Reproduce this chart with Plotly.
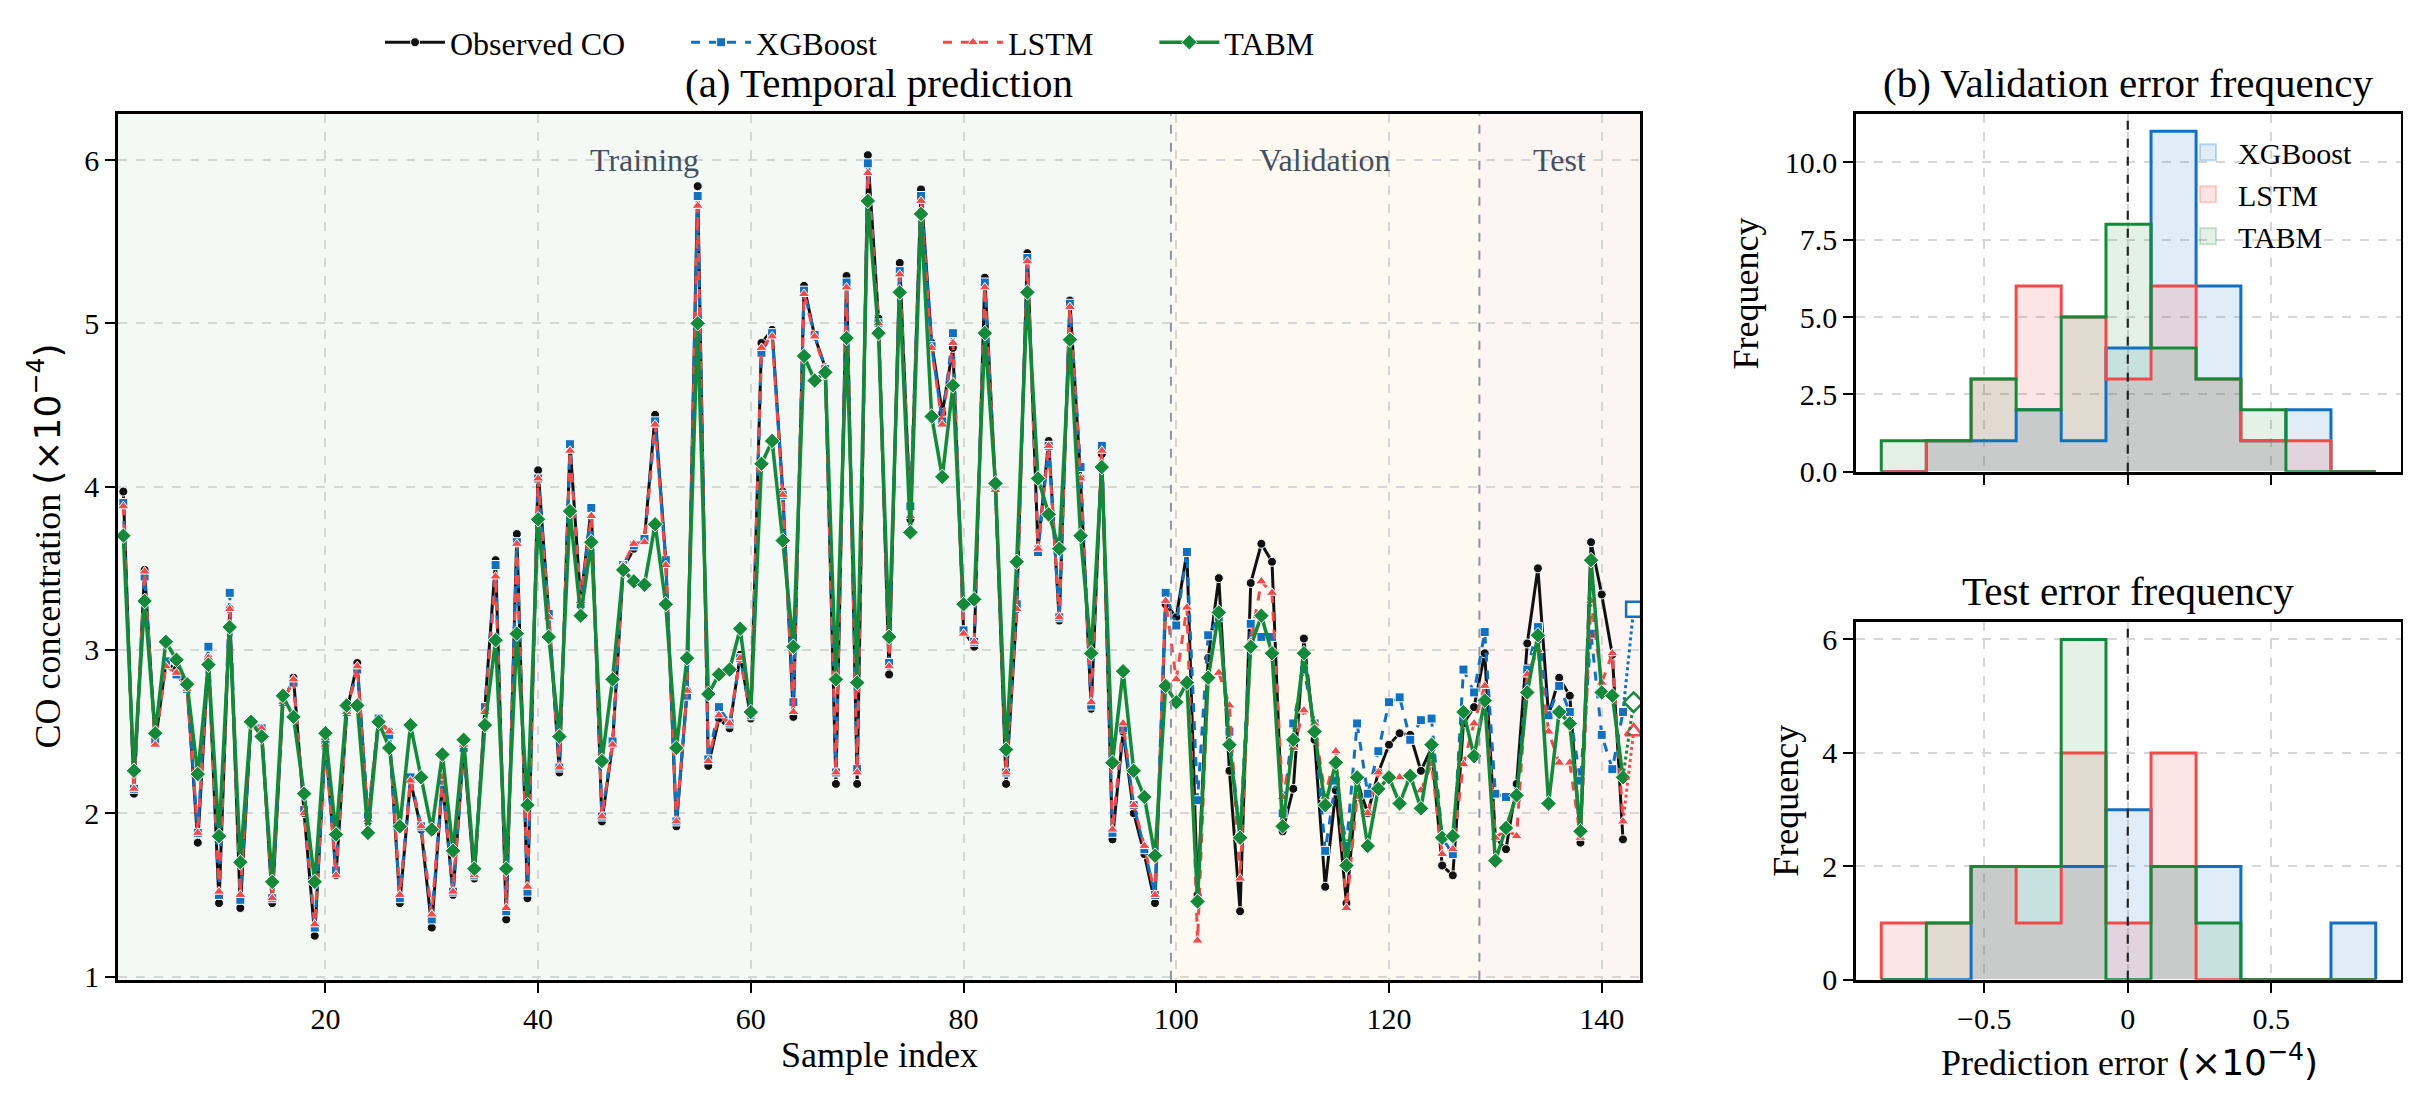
import plotly.graph_objects as go

# ---------------- data ----------------
sample_index = list(range(1, 144))

observed = [
    3.97, 2.12, 3.49, 2.43, 2.92, 2.88, 2.78, 1.82, 2.95, 1.45,
    3.25, 1.42, 2.55, 2.52, 1.45, 2.67, 2.83, 2.00, 1.25, 2.45,
    1.62, 2.62, 2.92, 1.95, 2.57, 2.50, 1.45, 2.20, 1.90, 1.30,
    2.20, 1.50, 2.40, 1.60, 2.65, 3.55, 1.35, 3.71, 1.48, 4.10,
    3.22, 2.25, 4.26, 3.30, 3.87, 1.95, 2.42, 3.50, 3.62, 3.68,
    4.44, 3.55, 1.92, 2.75, 5.84, 2.29, 2.58, 2.52, 2.97, 2.58,
    4.88, 4.96, 3.97, 2.59, 5.23, 4.92, 4.73, 2.18, 5.29, 2.18,
    6.03, 5.03, 2.85, 5.37, 3.80, 5.82, 4.88, 4.45, 4.85, 3.12,
    3.02, 5.28, 4.00, 2.18, 3.25, 5.43, 3.62, 4.28, 3.18, 5.14,
    4.05, 2.64, 4.20, 1.84, 2.50, 2.00, 1.75, 1.45, 3.28, 3.20,
    3.60, 1.50, 2.95, 3.44, 2.26, 1.40, 3.41, 3.65, 3.54, 1.89,
    2.15, 3.07, 2.45, 1.55, 2.14, 1.45, 2.20, 2.00, 2.25, 2.42,
    2.49, 2.48, 2.26, 2.40, 1.68, 1.62, 2.55, 2.65, 2.98, 1.85,
    1.78, 2.18, 3.04, 3.50, 2.60, 2.83, 2.72, 1.82, 3.66, 3.34,
    2.97, 1.84, None,
]

xgboost = [
    3.90, 2.15, 3.45, 2.45, 2.93, 2.85, 2.76, 1.88, 3.02, 1.50,
    3.35, 1.47, 2.55, 2.52, 1.48, 2.68, 2.80, 2.02, 1.30, 2.42,
    1.65, 2.62, 2.88, 1.98, 2.58, 2.48, 1.48, 2.22, 1.92, 1.35,
    2.20, 1.52, 2.40, 1.62, 2.65, 3.52, 1.40, 3.66, 1.52, 4.05,
    3.22, 2.28, 4.26, 3.28, 3.87, 1.98, 2.44, 3.52, 3.64, 3.68,
    4.40, 3.55, 1.95, 2.72, 5.78, 2.33, 2.65, 2.55, 2.95, 2.60,
    4.82, 4.94, 3.95, 2.68, 5.20, 4.93, 4.72, 2.25, 5.25, 2.27,
    5.98, 5.00, 2.92, 5.32, 3.88, 5.78, 4.86, 4.40, 4.94, 3.12,
    3.05, 5.25, 4.00, 2.25, 3.28, 5.40, 3.60, 4.25, 3.20, 5.12,
    4.12, 2.66, 4.25, 1.88, 2.52, 2.05, 1.78, 1.50, 3.35, 3.15,
    3.60, 2.08, 3.09, 3.20, 2.50, 1.85, 3.16, 3.08, 3.08, 2.00,
    2.55, 2.88, 2.55, 1.77, 2.20, 1.80, 2.55, 2.12, 2.38, 2.68,
    2.71, 2.45, 2.57, 2.58, 1.85, 1.75, 2.88, 2.74, 3.11, 2.12,
    2.10, 2.10, 2.88, 3.14, 2.60, 2.78, 2.62, 2.20, 3.10, 2.48,
    2.27, 2.62, 3.25,
]

lstm = [
    3.88, 2.15, 3.48, 2.42, 2.90, 2.86, 2.76, 1.88, 2.95, 1.52,
    3.25, 1.50, 2.56, 2.52, 1.48, 2.68, 2.82, 2.00, 1.32, 2.42,
    1.62, 2.62, 2.90, 1.96, 2.56, 2.50, 1.50, 2.20, 1.92, 1.38,
    2.22, 1.52, 2.42, 1.62, 2.62, 3.45, 1.42, 3.65, 1.55, 4.05,
    3.20, 2.28, 4.22, 3.30, 3.82, 1.98, 2.42, 3.52, 3.65, 3.66,
    4.38, 3.52, 1.95, 2.75, 5.72, 2.32, 2.60, 2.55, 2.95, 2.60,
    4.85, 4.92, 3.95, 2.62, 5.18, 4.92, 4.70, 2.25, 5.22, 2.25,
    5.92, 5.00, 2.90, 5.30, 3.82, 5.75, 4.85, 4.38, 4.88, 3.10,
    3.05, 5.22, 3.98, 2.25, 3.25, 5.38, 3.62, 4.25, 3.20, 5.10,
    4.05, 2.68, 4.22, 1.90, 2.55, 2.05, 1.80, 1.50, 3.30, 2.82,
    3.26, 1.22, 2.85, 2.86, 2.66, 1.60, 3.05, 3.42, 3.35, 2.10,
    2.40, 2.63, 2.55, 2.10, 2.38, 1.42, 2.10, 2.00, 2.25, 2.20,
    2.22, 2.20, 2.14, 2.30, 1.75, 1.78, 2.30, 2.55, 2.78, 1.85,
    1.90, 1.86, 2.85, 3.00, 2.50, 2.31, 2.31, 1.85, 3.30, 2.80,
    2.98, 1.95, 2.50,
]

tabm = [
    3.70, 2.26, 3.30, 2.49, 3.05, 2.94, 2.79, 2.24, 2.91, 1.86,
    3.14, 1.70, 2.56, 2.47, 1.58, 2.72, 2.59, 2.12, 1.58, 2.49,
    1.87, 2.66, 2.66, 1.88, 2.56, 2.40, 1.92, 2.54, 2.22, 1.90,
    2.36, 1.77, 2.45, 1.66, 2.54, 3.06, 1.66, 3.10, 2.05, 3.80,
    3.08, 2.47, 3.85, 3.21, 3.66, 2.32, 2.82, 3.49, 3.42, 3.40,
    3.77, 3.28, 2.40, 2.95, 5.00, 2.73, 2.85, 2.88, 3.13, 2.62,
    4.14, 4.28, 3.67, 3.02, 4.80, 4.65, 4.70, 2.82, 4.91, 2.80,
    5.75, 4.94, 3.08, 5.19, 3.72, 5.67, 4.43, 4.06, 4.62, 3.28,
    3.31, 4.94, 4.02, 2.39, 3.54, 5.19, 4.05, 3.83, 3.62, 4.90,
    3.70, 2.98, 4.12, 2.31, 2.87, 2.26, 2.10, 1.74, 2.78, 2.68,
    2.80, 1.46, 2.83, 3.23, 2.42, 1.85, 3.02, 3.21, 2.98, 1.92,
    2.45, 2.98, 2.50, 2.05, 2.31, 1.68, 2.22, 1.80, 2.15, 2.22,
    2.06, 2.23, 2.03, 2.42, 1.85, 1.86, 2.62, 2.35, 2.69, 1.71,
    1.91, 2.11, 2.74, 3.09, 2.06, 2.62, 2.55, 1.89, 3.55, 2.74,
    2.72, 2.22, 2.68,
]

# histogram bins (prediction error, x1e-4) and counts
hist_edges = [-0.859, -0.702, -0.546, -0.389, -0.232, -0.076,
              0.081, 0.238, 0.394, 0.551, 0.708, 0.864]
val_xgb = [0, 1, 1, 2, 1, 4, 11, 6, 1, 2, 0]
val_lstm = [0, 1, 3, 6, 5, 3, 6, 3, 1, 1, 0]
val_tabm = [1, 1, 3, 2, 5, 8, 4, 3, 2, 0, 0]
test_xgb = [0, 0, 2, 2, 2, 3, 2, 2, 0, 0, 1]
test_lstm = [1, 1, 2, 1, 4, 1, 4, 0, 0, 0, 0]
test_tabm = [0, 1, 2, 2, 6, 0, 2, 1, 0, 0, 0]

main_x_ticks = [20, 40, 60, 80, 100, 120, 140]
main_y_ticks = [1, 2, 3, 4, 5, 6]
val_y_ticks = [0, 2.5, 5, 7.5, 10]
test_y_ticks = [0, 2, 4, 6]
err_x_ticks = [-0.5, 0, 0.5]

# ---------------- styling ----------------
W, H = 2411, 1107
FONT = "Liberation Serif"
C_OBS = "#111111"
C_XGB = "#1170c1"
C_LSTM = "#f04a4a"
C_TABM = "#15893a"
F_XGB = "rgba(17,112,193,0.13)"
F_LSTM = "rgba(240,74,74,0.14)"
F_TABM = "rgba(21,137,58,0.12)"
L_XGB = "rgba(17,112,193,0.25)"
L_LSTM = "rgba(240,74,74,0.25)"
L_TABM = "rgba(21,137,58,0.22)"
GRID = "#d6d6d6"
PAD = "\u00a0" * 7  # spacing between legend entries

def px_x(p):
    return p / W

def px_y(p):
    return 1 - p / H

fig = go.Figure()

n_main = 142  # last sample drawn with dotted connector / hollow marker

fig.add_trace(go.Scatter(
    x=sample_index[:n_main], y=observed[:n_main], mode="lines+markers",
    name="Observed CO" + PAD, line=dict(color=C_OBS, width=3),
    marker=dict(symbol="circle", size=9, color=C_OBS, line=dict(color="white", width=1)),
    xaxis="x", yaxis="y", legend="legend"))
fig.add_trace(go.Scatter(
    x=sample_index[:n_main], y=xgboost[:n_main], mode="lines+markers",
    name="XGBoost" + PAD, line=dict(color=C_XGB, width=3, dash="dash"),
    marker=dict(symbol="square", size=9, color=C_XGB, line=dict(color="white", width=1)),
    xaxis="x", yaxis="y", legend="legend"))
fig.add_trace(go.Scatter(
    x=sample_index[:n_main], y=lstm[:n_main], mode="lines+markers",
    name="LSTM" + PAD, line=dict(color=C_LSTM, width=3, dash="dash"),
    marker=dict(symbol="triangle-up", size=10, color=C_LSTM, line=dict(color="white", width=1)),
    xaxis="x", yaxis="y", legend="legend"))
fig.add_trace(go.Scatter(
    x=sample_index[:n_main], y=tabm[:n_main], mode="lines+markers",
    name="TABM", line=dict(color=C_TABM, width=3.5),
    marker=dict(symbol="diamond", size=12, color=C_TABM, line=dict(color="white", width=1)),
    xaxis="x", yaxis="y", legend="legend"))

# dotted connector to final (forecast) point with hollow markers
for series, col, sym in [(xgboost, C_XGB, "square"), (lstm, C_LSTM, "triangle-up"), (tabm, C_TABM, "diamond")]:
    fig.add_trace(go.Scatter(
        x=sample_index[n_main - 1:], y=series[n_main - 1:], mode="lines",
        line=dict(color=col, width=3, dash="dot"), showlegend=False,
        xaxis="x", yaxis="y", hoverinfo="skip"))
    fig.add_trace(go.Scatter(
        x=sample_index[n_main:], y=series[n_main:], mode="markers",
        marker=dict(symbol=sym, size=15, color="white", line=dict(color=col, width=2.5)),
        showlegend=False, xaxis="x", yaxis="y"))

# histograms
centers = [(hist_edges[i] + hist_edges[i + 1]) / 2 for i in range(len(hist_edges) - 1)]
bw = hist_edges[1] - hist_edges[0]

def step_xy(counts):
    xs = [hist_edges[0]] + hist_edges[:-1] + [hist_edges[-1]]
    ys = [0] + list(counts) + [0]
    return xs, ys

for (counts, col, fill, name, xa, ya) in [
    (val_xgb, C_XGB, F_XGB, "XGBoost", "x2", "y2"),
    (val_lstm, C_LSTM, F_LSTM, "LSTM", "x2", "y2"),
    (val_tabm, C_TABM, F_TABM, "TABM", "x2", "y2"),
    (test_xgb, C_XGB, F_XGB, "XGBoost", "x3", "y3"),
    (test_lstm, C_LSTM, F_LSTM, "LSTM", "x3", "y3"),
    (test_tabm, C_TABM, F_TABM, "TABM", "x3", "y3"),
]:
    fig.add_trace(go.Bar(
        x=centers, y=counts, width=bw, name=name,
        marker=dict(color=fill, line=dict(width=0)),
        showlegend=False, xaxis=xa, yaxis=ya))
    sx, sy = step_xy(counts)
    fig.add_trace(go.Scatter(
        x=sx, y=sy, mode="lines", line=dict(color=col, width=3, shape="hv"),
        showlegend=False, xaxis=xa, yaxis=ya, hoverinfo="skip"))

# legend-only patches for the histogram legend
for name, fill, edge in [("XGBoost", F_XGB, L_XGB), ("LSTM", F_LSTM, L_LSTM), ("TABM", F_TABM, L_TABM)]:
    fig.add_trace(go.Scatter(
        x=[None], y=[None], mode="markers", name=name,
        marker=dict(symbol="square", size=30, color=fill, line=dict(color=edge, width=2)),
        legend="legend2", xaxis="x2", yaxis="y2"))

# ---------------- layout ----------------
axis_common = dict(
    showline=True, mirror=True, linecolor="black", linewidth=2.5,
    ticks="outside", ticklen=10, tickwidth=2, tickcolor="black",
    showgrid=True, gridcolor=GRID, griddash="dash", gridwidth=1.5,
    zeroline=False, tickfont=dict(family=FONT, size=30, color="black"),
)

main_dom_x = [px_x(110), px_x(1632)]
main_dom_y = [px_y(987), px_y(108)]
hist_dom_x = [px_x(1848), px_x(2393)]
top_dom_y = [px_y(471), px_y(108)]
bot_dom_y = [px_y(987), px_y(624)]

fig.update_layout(
    width=W, height=H,
    margin=dict(l=0, r=0, t=0, b=0),
    paper_bgcolor="white", plot_bgcolor="white",
    barmode="overlay", bargap=0,
    font=dict(family=FONT, color="black"),
    xaxis=dict(axis_common, domain=main_dom_x, range=[0.5, 143.6],
               tickvals=main_x_ticks, anchor="y"),
    yaxis=dict(axis_common, domain=main_dom_y, range=[0.98, 6.28],
               tickvals=main_y_ticks, anchor="x"),
    xaxis2=dict(axis_common, domain=hist_dom_x, range=[-0.947, 0.952],
                tickvals=err_x_ticks, showticklabels=False, anchor="y2"),
    yaxis2=dict(axis_common, domain=top_dom_y, range=[0, 11.55],
                tickvals=val_y_ticks, tickformat=".1f", anchor="x2"),
    xaxis3=dict(axis_common, domain=hist_dom_x, range=[-0.947, 0.952],
                tickvals=err_x_ticks, ticktext=["\u22120.5", "0", "0.5"], anchor="y3"),
    yaxis3=dict(axis_common, domain=bot_dom_y, range=[0, 6.3],
                tickvals=test_y_ticks, anchor="x3"),
    legend=dict(orientation="h", x=px_x(372), xanchor="left", y=px_y(35), yanchor="middle",
                font=dict(family=FONT, size=32, color="black"), bgcolor="rgba(0,0,0,0)",
                itemwidth=60, traceorder="normal"),
    legend2=dict(orientation="v", x=px_x(2170), xanchor="left", y=px_y(120), yanchor="top",
                 font=dict(family=FONT, size=30, color="black"), bgcolor="rgba(0,0,0,0)",
                 itemwidth=50, tracegroupgap=4),
    showlegend=True,
)

shapes = []
# region shading
for x0, x1, col in [(0.5, 99.5, "rgba(225,240,230,0.38)"),
                    (99.5, 128.5, "rgba(252,244,222,0.42)"),
                    (128.5, 143.6, "rgba(250,228,224,0.38)")]:
    shapes.append(dict(type="rect", xref="x", yref="y domain", x0=x0, x1=x1, y0=0, y1=1,
                       fillcolor=col, line=dict(width=0), layer="below"))
for xb in [99.5, 128.5]:
    shapes.append(dict(type="line", xref="x", yref="y domain", x0=xb, x1=xb, y0=0, y1=1,
                       line=dict(color="#8b95a7", width=2, dash="dash"), layer="above"))
for ya in ["y2 domain", "y3 domain"]:
    xr = "x2" if ya.startswith("y2") else "x3"
    shapes.append(dict(type="line", xref=xr, yref=ya, x0=0, x1=0, y0=0, y1=1,
                       line=dict(color="#222222", width=2.2, dash="dash"), layer="above"))
fig.update_layout(shapes=shapes)

math = "<span style='font-family:DejaVu Sans'>(×10<sup>−4</sup>)</span>"
ann = []
ann.append(dict(text="(a) Temporal prediction", x=px_x(871), y=px_y(76), xref="paper", yref="paper",
                showarrow=False, font=dict(family=FONT, size=41, color="black"), xanchor="center", yanchor="middle"))
ann.append(dict(text="(b) Validation error frequency", x=px_x(2120), y=px_y(76), xref="paper", yref="paper",
                showarrow=False, font=dict(family=FONT, size=41, color="black"), xanchor="center", yanchor="middle"))
ann.append(dict(text="Test error frequency", x=px_x(2120), y=px_y(592), xref="paper", yref="paper",
                showarrow=False, font=dict(family=FONT, size=41, color="black"), xanchor="center", yanchor="middle"))
ann.append(dict(text="Sample index", x=px_x(871), y=px_y(1063), xref="paper", yref="paper",
                showarrow=False, font=dict(family=FONT, size=36, color="black"), xanchor="center", yanchor="middle"))
ann.append(dict(text="CO concentration " + math, x=px_x(36), y=px_y(547), xref="paper", yref="paper",
                showarrow=False, textangle=-90, font=dict(family=FONT, size=36, color="black"),
                xanchor="center", yanchor="middle"))
ann.append(dict(text="Frequency", x=px_x(1738), y=px_y(290), xref="paper", yref="paper",
                showarrow=False, textangle=-90, font=dict(family=FONT, size=36, color="black"),
                xanchor="center", yanchor="middle"))
ann.append(dict(text="Frequency", x=px_x(1778), y=px_y(805), xref="paper", yref="paper",
                showarrow=False, textangle=-90, font=dict(family=FONT, size=36, color="black"),
                xanchor="center", yanchor="middle"))
ann.append(dict(text="Prediction error " + math, x=px_x(2121), y=px_y(1068), xref="paper", yref="paper",
                showarrow=False, font=dict(family=FONT, size=36, color="black"), xanchor="center", yanchor="middle"))
for label, xc in [("Training", 50), ("Validation", 114), ("Test", 136)]:
    ann.append(dict(text=label, x=xc, y=6.0, xref="x", yref="y", showarrow=False,
                    font=dict(family=FONT, size=32, color="#44505f"), xanchor="center", yanchor="middle"))
fig.update_layout(annotations=ann)

fig.write_html("out.html")
